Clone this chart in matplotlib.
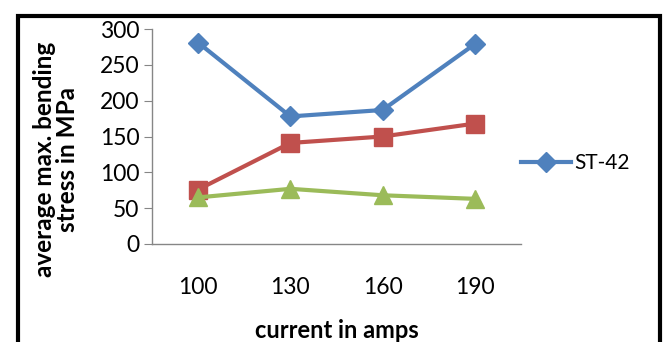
import matplotlib
matplotlib.use("Agg")
import matplotlib.pyplot as plt
from matplotlib.patches import Rectangle

categories = ["100", "130", "160", "190"]
st42 = [281, 178, 187, 279]
series2 = [76, 141, 150, 168]
series3 = [65, 77, 68, 63]
yticks = [0, 50, 100, 150, 200, 250, 300]

plt.rcParams['font.family'] = ['Lato', 'DejaVu Sans']

W, H = 665, 342
fig = plt.figure(figsize=(W/100, H/100), dpi=100)
fig.patch.set_facecolor('white')

ax = fig.add_axes([152/W, 1-244/H, (521-152)/W, (244-29)/H])
x = list(range(len(categories)))
l1, = ax.plot(x, st42, color='#4F81BD', lw=3, marker='D', ms=10, label='ST-42', zorder=3)
ax.plot(x, series2, color='#C0504D', lw=3, marker='s', ms=13, zorder=3)
ax.plot(x, series3, color='#9BBB59', lw=3, marker='^', ms=13, zorder=3)

ax.set_xlim(-0.5, 3.5)
ax.set_ylim(0, 300)
ax.set_yticks(yticks)
ax.set_xticks(x)
ax.set_xticklabels(categories)
for s in ['top', 'right']:
    ax.spines[s].set_visible(False)
for s in ['left', 'bottom']:
    ax.spines[s].set_color('#868686')
    ax.spines[s].set_linewidth(1)
ax.tick_params(axis='y', length=6, color='#868686', labelsize=16.5, pad=3)
ax.tick_params(axis='x', length=0, labelsize=16.5, pad=24)

ax.set_xlabel('current in amps', fontsize=17, fontweight='bold', labelpad=15)
fig.text(56/W, 1-159/H, 'average max. bending\nstress in MPa', rotation=90,
         ha='center', va='center', fontsize=17.5, fontweight='bold', linespacing=1.05)

fig.legend(handles=[l1], loc='center left', bbox_to_anchor=(513/W, 1-163/H),
           frameon=False, fontsize=15, handlelength=2.4, handletextpad=0.15,
           borderaxespad=0)

fig.patches.append(Rectangle((18/W, -0.1), (660-18)/W, 1-16/H+0.1,
                             transform=fig.transFigure, fill=False,
                             edgecolor='black', lw=3, zorder=10))

fig.savefig('out.png', dpi=100)
